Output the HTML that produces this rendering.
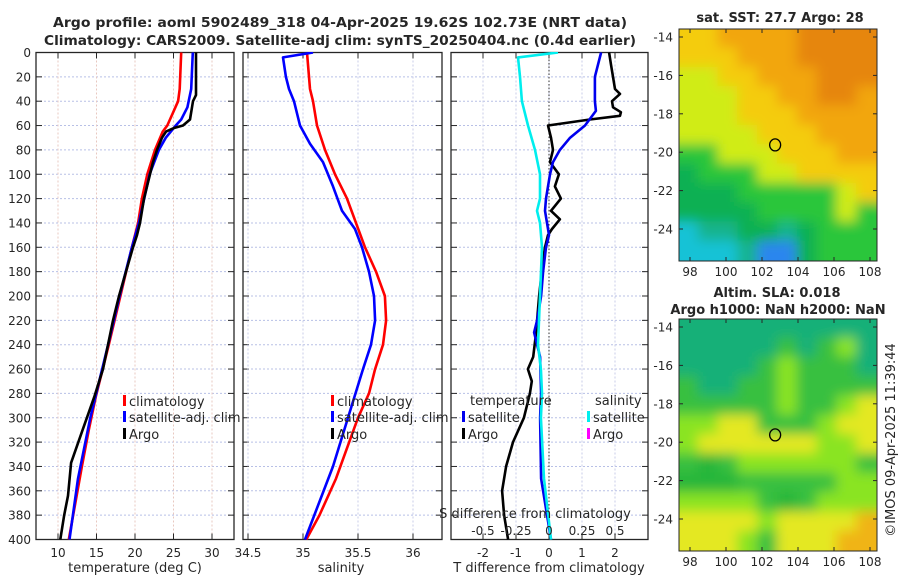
<!DOCTYPE html>
<html><head><meta charset="utf-8">
<style>
html,body{margin:0;padding:0;background:#fff;}
svg{display:block;font-family:"DejaVu Sans","Liberation Sans",sans-serif;}
</style></head>
<body>
<svg id="fig" width="900" height="580" viewBox="0 0 900 580" xmlns="http://www.w3.org/2000/svg">
<defs>
<clipPath id="c1"><rect x="36" y="52" width="198" height="488"/></clipPath>
<clipPath id="c2"><rect x="243" y="52" width="199" height="488"/></clipPath>
<clipPath id="c3"><rect x="451" y="52" width="197" height="488"/></clipPath>
<clipPath id="m1"><rect x="679" y="29" width="198" height="232"/></clipPath>
<clipPath id="m2"><rect x="679" y="319" width="198" height="232"/></clipPath>
<filter id="bl" x="-10%" y="-10%" width="120%" height="120%"><feGaussianBlur stdDeviation="6"/></filter>
</defs>
<g id="root"></g>
</svg>
<script>
// ---- data ----
const depthTicks = [0,20,40,60,80,100,120,140,160,180,200,220,240,260,280,300,320,340,360,380,400];
const tTicks = [10,15,20,25,30];
const sTicks = [34.5,35,35.5,36];
const dTTicks = [-2,-1,0,1,2];
const dSTicks = [-0.5,-0.25,0,0.25,0.5];
const dSTickLabels = ['-0.5','-0.25','0','0.25','0.5'];

const climTDepth = [0,30,40,50,60,65,80,100,120,140,160,200,240,283,310,340,400];
const climT = [26.0,25.8,25.6,24.9,24.2,23.6,22.6,21.6,20.9,20.4,19.6,18.1,16.6,14.9,14.0,13.1,11.4];
const satTDepth = [0,30,45,55,60,70,80,100,120,140,160,200,240,300,350,400];
const satT = [27.5,27.3,26.8,26.0,25.3,24.0,23.1,21.9,21.2,20.5,19.6,18.0,16.5,14.2,12.6,11.5];
const argoTDepth = [0,35,40,55,60,62,65,70,80,90,100,110,120,140,150,160,180,200,220,240,260,283,310,337,364,380,400];
const argoT = [27.92,27.92,27.53,27.14,26.23,25.06,24.03,23.51,22.86,22.34,21.95,21.56,21.17,20.65,20.26,19.74,18.83,17.92,17.14,16.49,15.84,14.7,13.2,11.7,11.3,10.8,10.3];

const climSDepth = [0,30,40,60,80,100,120,140,160,180,200,220,240,260,280,300,320,350,380,400];
const climS = [35.036,35.064,35.091,35.127,35.2,35.291,35.4,35.482,35.564,35.664,35.745,35.755,35.727,35.655,35.6,35.5,35.42,35.3,35.15,35.03];
const satSDepth = [0,4,20,30,40,60,75,90,110,130,145,160,180,200,220,240,260,300,340,400];
const satS = [35.091,34.818,34.845,34.873,34.918,34.973,35.064,35.182,35.273,35.355,35.473,35.536,35.6,35.645,35.655,35.618,35.545,35.409,35.273,35.018];

const dTSatDepth = [0,20,40,48,60,70,80,90,100,110,120,130,140,150,160,180,200,220,230,250,280,300,350,400];
const dTSat = [1.58,1.39,1.39,1.42,1.09,0.64,0.33,0.12,0.03,-0.03,-0.09,-0.12,-0.06,0,-0.09,-0.18,-0.24,-0.36,-0.45,-0.27,-0.24,-0.27,-0.24,0.06];
const dTArgoDepth = [0,10,30,34,40,45,49,52,55,60,70,80,90,100,110,120,130,137,145,150,160,170,200,230,250,260,270,280,300,320,340,360,380,400];
const dTArgo = [1.82,1.88,2.0,2.15,1.91,1.94,2.18,2.15,1.24,-0.03,0.06,0.12,0.03,0.30,0.18,0.36,0.06,0.33,0.09,-0.03,-0.12,-0.18,-0.30,-0.39,-0.48,-0.64,-0.52,-0.58,-0.76,-1.09,-1.30,-1.42,-1.36,-1.24];
const dSSatDepth = [0,4,20,40,60,80,100,120,130,140,160,200,240,260,280,300,350,400];
const dSSat = [0.068,-0.235,-0.22,-0.205,-0.159,-0.106,-0.068,-0.068,-0.091,-0.068,-0.053,-0.068,-0.083,-0.061,-0.053,-0.061,-0.038,0.015];

const latTicks = [-14,-16,-18,-20,-22,-24];
const lonTicks = [98,100,102,104,106,108];
const sstGrid = ["YYooooOOOO","YYYoooOOOO","yyYYoooOOO","yyyYYooOOo","yyyYYYoooo","yyyyYYYooo","GGyyyYYYoo","gGGGyyYYYY","gggGGGGGyY","ggggGGGGyG","CTTggTgGGG","CCCTBBgGGG"];
const slaGrid = ["TTTTTTTTTT","TTTTTgTgLT","TTTTgLgggT","gTTggLgggg","gggggLggLY","LLYYgggLYY","LYYYYYYLLY","gGgLLLLLLg","GGGgggggLL","LLLLgGgLLL","YYYYLYYYYO","YYYLgYYYOO"];
const argoLon = 102.73, argoLat = -19.62;

// ---- helpers ----
const NS="http://www.w3.org/2000/svg";
const root=document.getElementById('root');
function mk(tag,attrs,parent){const e=document.createElementNS(NS,tag);for(const k in attrs)e.setAttribute(k,attrs[k]);(parent||root).appendChild(e);return e;}
function txt(x,y,s,opt,parent){opt=opt||{};const e=mk('text',{x:x,y:y,'font-size':opt.size||12,'text-anchor':opt.anchor||'middle',fill:opt.fill||'#262626','font-weight':opt.bold?'bold':'normal'},parent);if(opt.len){e.setAttribute('textLength',opt.len);e.setAttribute('lengthAdjust','spacingAndGlyphs');}if(opt.rot)e.setAttribute('transform',opt.rot);e.textContent=s;return e;}

const Y0=52.5, Y1=539.5, DMAX=400;
const yD=d=>Y0+d*(Y1-Y0)/DMAX;
const xT=t=>58+(t-10)*7.7;
const xS=s=>303+(s-35)*110;
const xdT=v=>549+v*33;
const xdS=v=>549+v*132;

function panel(name,x0,x1,xticks,xfun,vgridCol,showDepthLabels){
  const g=mk('g',{});
  
  
  mk('rect',{x:x0,y:Y0,width:x1-x0,height:Y1-Y0,fill:'#fff'},g);
  depthTicks.forEach(d=>{
    mk('line',{x1:x0,x2:x1,y1:yD(d),y2:yD(d),stroke:'#b8c0e6','stroke-width':1,'stroke-dasharray':'2,2'},g);
    mk('line',{x1:x0,x2:x0+6,y1:yD(d),y2:yD(d),stroke:'#262626','stroke-width':1},g);
    mk('line',{x1:x1-6,x2:x1,y1:yD(d),y2:yD(d),stroke:'#262626','stroke-width':1},g);
    if(showDepthLabels){const t=txt(31,yD(d)+4.5,String(d),{anchor:'end'},g);}
  });
  xticks.forEach(v=>{
    const x=xfun(v);
    mk('line',{x1:x,x2:x,y1:Y0,y2:Y1,stroke:vgridCol,'stroke-width':1,'stroke-dasharray':'2,2'},g);
    mk('line',{x1:x,x2:x,y1:Y0,y2:Y0+6,stroke:'#262626'},g);
    mk('line',{x1:x,x2:x,y1:Y1-6,y2:Y1,stroke:'#262626'},g);
  });
  return g;
}
function frame(x0,x1,g){mk('rect',{x:x0,y:Y0,width:x1-x0,height:Y1-Y0,fill:'none',stroke:'#262626','stroke-width':1.3},g);}
function line(depths,vals,xf,color,clip,name,w){
  const pts=depths.map((d,i)=>xf(vals[i]).toFixed(1)+','+yD(d).toFixed(1)).join(' ');
  const p=mk('polyline',{points:pts,fill:'none',stroke:color,'stroke-width':w||2.6,'stroke-linejoin':'round','clip-path':'url(#'+clip+')'});
  
  
  return p;
}
function legendEntry(x,y,color,label,name){
  const g=mk('g',{});
  
  
  mk('rect',{x:x,y:y-6,width:3,height:11,fill:color},g);
  txt(x+6,y+5,label,{anchor:'start',size:13},g);
}

// titles
let t=txt(340,27,'Argo profile: aoml 5902489_318 04-Apr-2025 19.62S 102.73E (NRT data)',{bold:true,size:13,len:574});

t=txt(340,45,'Climatology: CARS2009. Satellite-adj clim: synTS_20250404.nc (0.4d earlier)',{bold:true,size:13,len:592});


// ---- panel 1: temperature ----
const p1=panel('temperature-panel',36,234,tTicks,xT,'#e8c8c0',true);
line(climTDepth,climT,xT,'#ff0000','c1','climatology-temperature-line');
line(satTDepth,satT,xT,'#0000ff','c1','satellite-temperature-line');
line(argoTDepth,argoT,xT,'#000000','c1','argo-temperature-line');
legendEntry(123,401,'#ff0000','climatology','legend-climatology');
legendEntry(123,417,'#0000ff','satellite-adj. clim','legend-satellite-adj');
legendEntry(123,434,'#000000','Argo','legend-argo');
tTicks.forEach(v=>{const e=txt(xT(v),557,String(v),{size:12});});
t=txt(135,572,'temperature (deg C)',{size:13});

// ---- panel 2: salinity ----
const p2=panel('salinity-panel',243,442,sTicks,xS,'#c8cce8',false);
line(climSDepth,climS,xS,'#ff0000','c2','climatology-salinity-line');
line(satSDepth,satS,xS,'#0000ff','c2','satellite-salinity-line');
legendEntry(331,401,'#ff0000','climatology','legend-climatology-2');
legendEntry(331,417,'#0000ff','satellite-adj. clim','legend-satellite-adj-2');
legendEntry(331,434,'#000000','Argo','legend-argo-2');
frame(36,234,p1);
sTicks.forEach(v=>{const e=txt(xS(v),557,String(v),{size:12});});
t=txt(341,572,'salinity',{size:13});

// ---- panel 3: differences ----
const p3=panel('difference-panel',451,648,dTTicks,xdT,'#c8cce8',false);
frame(243,442,p2);
mk('line',{x1:549,x2:549,y1:Y0,y2:Y1,stroke:'#333','stroke-width':1,'stroke-dasharray':'1.5,2'});
line(dTArgoDepth,dTArgo,xdT,'#000000','c3','argo-temperature-difference-line');
line(dTSatDepth,dTSat,xdT,'#0000ee','c3','satellite-temperature-difference-line');
line(dSSatDepth,dSSat,xdS,'#00eeee','c3','satellite-salinity-difference-line');
t=txt(470,405,'temperature',{anchor:'start',size:13});
t=txt(595,405,'salinity',{anchor:'start',size:13});
legendEntry(462,417,'#0000ee','satellite','legend-temp-satellite');
legendEntry(462,434,'#000000','Argo','legend-temp-argo');
legendEntry(587,417,'#00eeee','satellite','legend-sal-satellite');
legendEntry(587,434,'#ff00ff','Argo','legend-sal-argo');
t=txt(535,518,'S difference from climatology',{size:13});
dSTicks.forEach((v,i)=>{const e=txt(xdS(v),535,dSTickLabels[i],{size:12});});
frame(451,648,p3);
dTTicks.forEach(v=>{const e=txt(xdT(v),557,String(v),{size:12});});
t=txt(549,572,'T difference from climatology',{size:13});

// ---- maps ----
const colors={O:'#e6860e',o:'#f2a60a',Y:'#f4cc10',y:'#d0ec12',G:'#2cc63a',g:'#10b052',T:'#14b48e',C:'#14c2d6',B:'#2a86ee',L:'#80e020'};
const slaColors={T:'#18b078',g:'#38c040',G:'#26b63a',L:'#8ae424',Y:'#e4e822',O:'#f0b414'};
function map(name,grid,cols,mx0,my0,mw,mh,clip,latTop,latScale){
  const g=mk('g',{});
  
  
  const inner=mk('g',{'clip-path':'url(#'+clip+')'},g);
  const f=mk('g',{filter:'url(#bl)'},inner);
  const nr=grid.length,nc=grid[0].length;
  const cw=mw/nc,ch=mh/nr;
  grid.forEach((row,r)=>{for(let c=0;c<nc;c++){
    const x=mx0+c*cw-1-(c===0?20:0), y=my0+r*ch-1-(r===0?20:0);
    const w=cw+2+(c===0?20:0)+(c===nc-1?20:0), h=ch+2+(r===0?20:0)+(r===nr-1?20:0);
    mk('rect',{x:x,y:y,width:w,height:h,fill:cols[row[c]]},f);}});
  const lonX=lon=>690+(lon-98)*18;
  const latY=lat=>latTop+(-14-lat)*latScale;
  mk('ellipse',{cx:lonX(argoLon),cy:latY(argoLat),rx:5.5,ry:6,fill:'none',stroke:'#000','stroke-width':1.3},g);
  mk('rect',{x:mx0,y:my0,width:mw,height:mh,fill:'none',stroke:'#262626','stroke-width':1},g);
  latTicks.forEach(l=>{const y=latY(l);
    mk('line',{x1:mx0,x2:mx0+4,y1:y,y2:y,stroke:'#262626'},g);
    mk('line',{x1:mx0+mw-4,x2:mx0+mw,y1:y,y2:y,stroke:'#262626'},g);
    const e=txt(673,y+4.5,String(l),{anchor:'end'},g);});
  lonTicks.forEach(l=>{const x=lonX(l);
    mk('line',{x1:x,x2:x,y1:my0,y2:my0+4,stroke:'#262626'},g);
    mk('line',{x1:x,x2:x,y1:my0+mh-4,y2:my0+mh,stroke:'#262626'},g);
    const e=txt(x,my0+mh+15,String(l),{},g);});
}
map('sst-map',sstGrid,colors,679,29,198,232,'m1',37,19.2);
map('sla-map',slaGrid,slaColors,679,319,198,232,'m2',327,19.2);
t=txt(780,22,'sat. SST: 27.7 Argo: 28',{bold:true,size:13});
t=txt(777,297,'Altim. SLA: 0.018',{bold:true,size:13});
t=txt(778,314,'Argo h1000: NaN h2000: NaN',{bold:true,size:13});
t=txt(0,0,'©IMOS 09-Apr-2025 11:39:44',{size:13,rot:'translate(895,440) rotate(-90)'});
</script>
</body></html>
